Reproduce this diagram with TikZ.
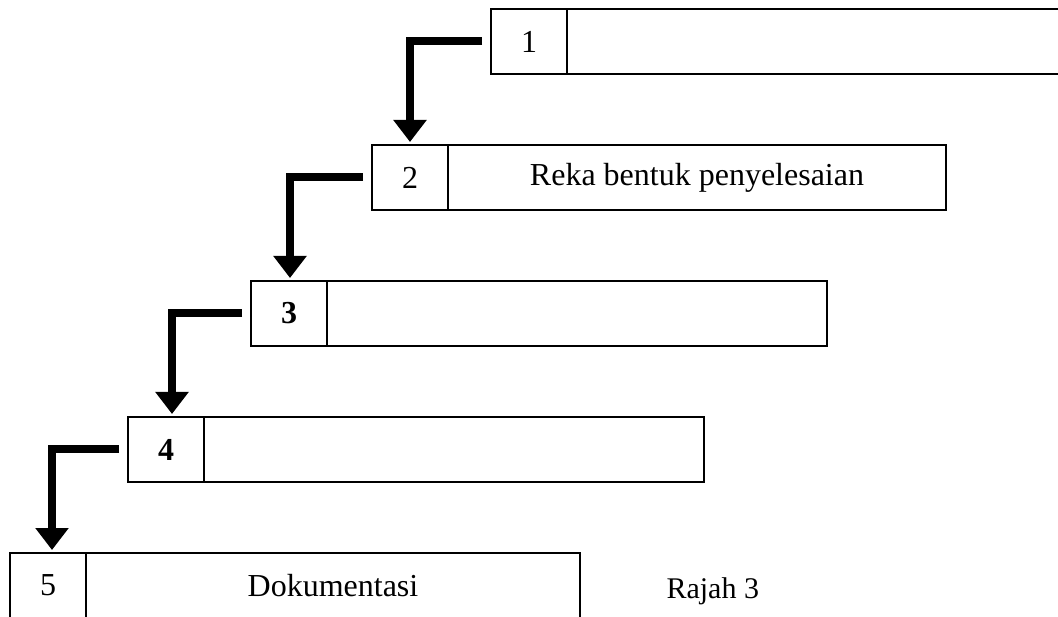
\documentclass[tikz,border=0pt]{standalone}
\usepackage{fontspec}
\setmainfont{Liberation Serif}
\usetikzlibrary{arrows.meta}
\begin{document}
\begin{tikzpicture}[x=1pt,y=-1pt,
  cell/.style={draw, line width=2.6pt, inner sep=0pt, outer sep=0pt,
    minimum height=65pt, anchor=north west,
    font=\fontsize{32}{38}\selectfont},
  numcell/.style={cell, minimum width=76pt},
  textcell/.style={cell, minimum width=#1},
  flow/.style={line width=8pt, line join=miter,
    -{Triangle[length=22pt,width=32pt]}},
]
\useasboundingbox (0,0) rectangle (1058,617);
\clip (0,0) rectangle (1058,617);

% stepped boxes: number cell + description cell
\node[numcell] (n1) at (491,9) {1};
\node[textcell=510pt] (t1) at (n1.north east) {};

\node[numcell] (n2) at (372,145) {2};
\node[textcell=498pt] (t2) at (n2.north east) {Reka bentuk penyelesaian};

\node[numcell] (n3) at (251,281) {\textbf{3}};
\node[textcell=500pt] (t3) at (n3.north east) {};

\node[numcell] (n4) at (128,417) {\textbf{4}};
\node[textcell=500pt] (t4) at (n4.north east) {};

\node[numcell, minimum height=90pt] (n5) at (10,553) {};
\node[textcell=494pt, minimum height=90pt] (t5) at (n5.north east) {};
\node[font=\fontsize{32}{38}\selectfont] (l5) at ([yshift=12.5pt]n5.center) {5};
\node[font=\fontsize{32}{38}\selectfont] (d5) at ([yshift=12.5pt]t5.center) {Dokumentasi};

% connectors between the steps
\draw[flow] ([xshift=-9pt]n1.west) -| ([yshift=3pt]n2.north);
\draw[flow] ([xshift=-9pt]n2.west) -| ([xshift=1pt,yshift=3pt]n3.north);
\draw[flow] ([xshift=-9pt]n3.west) -| ([xshift=6pt,yshift=3pt]n4.north);
\draw[flow] ([xshift=-9pt]n4.west) -| ([xshift=4pt,yshift=3pt]n5.north);

\node[anchor=base west, font=\fontsize{30}{36}\selectfont] (cap) at (663,598) {Rajah 3};
\end{tikzpicture}
\end{document}
